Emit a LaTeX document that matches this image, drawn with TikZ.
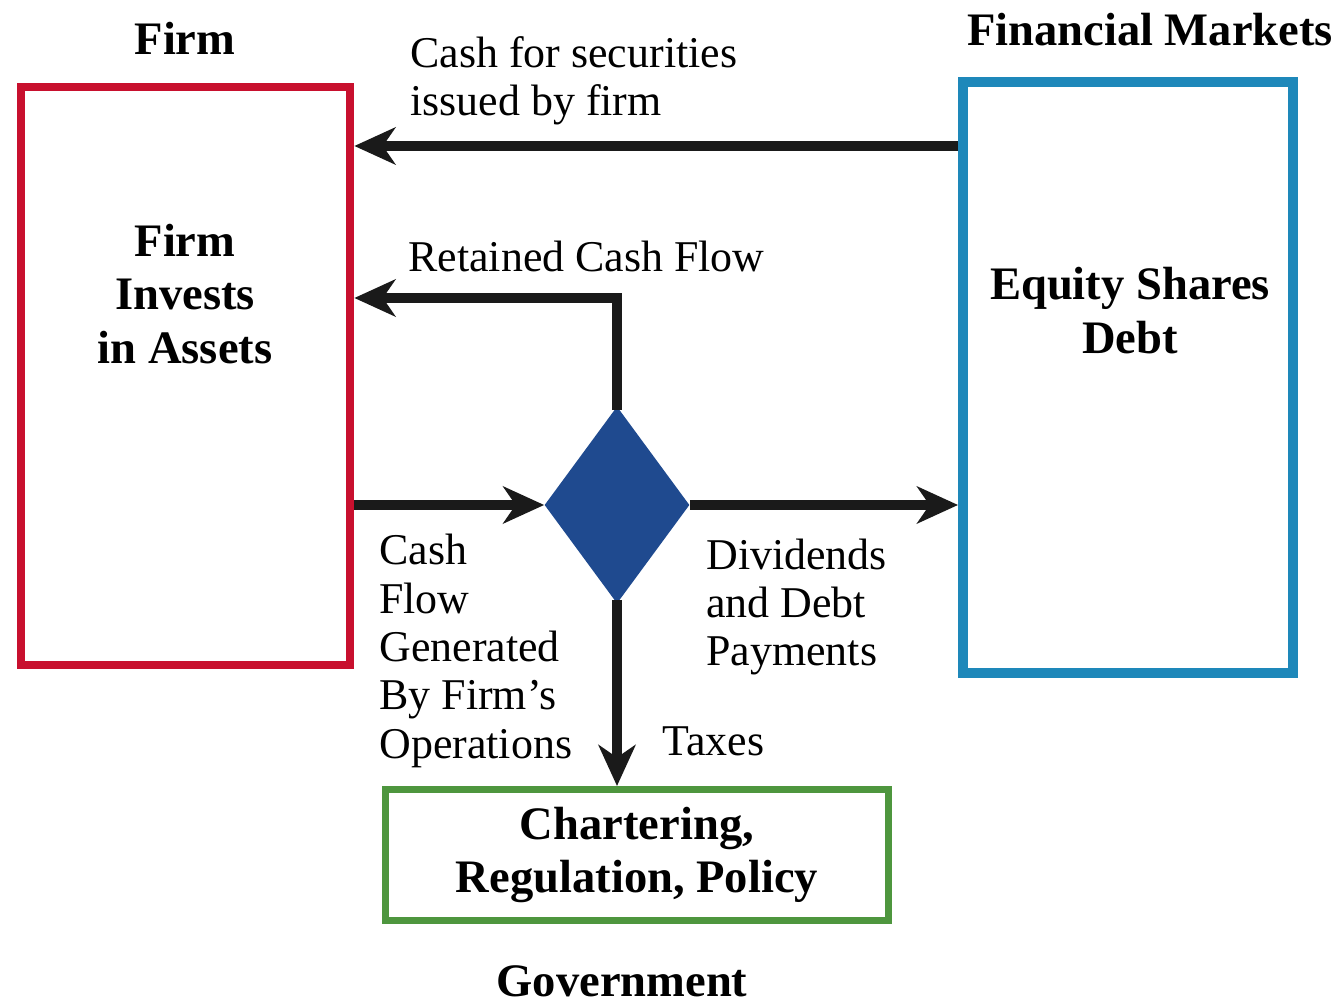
\documentclass[tikz,border=0pt]{standalone}
\usepackage{fontspec}
\setmainfont{Liberation Serif}
\definecolor{vermelhoFirma}{RGB}{200,16,46}
\definecolor{azulMercado}{RGB}{30,136,186}
\definecolor{verdeGoverno}{RGB}{78,150,62}
\definecolor{azulLosango}{RGB}{31,74,143}
\definecolor{pretoSeta}{RGB}{26,26,26}
\usetikzlibrary{shapes.geometric,arrows.meta,positioning}
\tikzset{
  caixa/.style={rectangle, draw=#1, line width=5pt, inner sep=0pt},
  losango/.style={diamond, fill=azulLosango, inner sep=0pt,
                  minimum width=2.9cm, minimum height=3.94cm},
  titulo/.style={inner sep=0pt, align=center,
                 font=\fontsize{26.5}{30.6}\selectfont\bfseries},
  rotulo/.style={inner sep=0pt, align=left, anchor=west,
                 font=\fontsize{25}{27.5}\selectfont},
  seta/.style={-{Stealth[length=0.82cm, width=0.74cm, inset=0.25cm]},
               line width=6pt, pretoSeta},
}

\begin{document}
\begin{tikzpicture}[x=0.02cm, y=0.02cm]
  \useasboundingbox (0,0) rectangle (1338,1004);

  % firma, mercados e governo
  \node[caixa=vermelhoFirma, minimum width=6.58cm, minimum height=11.56cm] (firma) at (185.5,628) {};
  \node[caixa=azulMercado, line width=5.7pt, minimum width=6.6cm, minimum height=11.82cm] (mercado) at (1128,626.5) {};
  \node[caixa=verdeGoverno, line width=4pt, minimum width=10.08cm, minimum height=2.62cm,
        titulo] (governo) at (637,149) {Chartering,\\Regulation, Policy};
  \node[losango] (divisao) at (617,499) {};

  \node[titulo] (tfirma) at (185,966) {Firm};
  \node[titulo] (tmercado) at (1150,974) {Financial Markets};
  \node[titulo] (tgoverno) at (622,23) {Government};
  \node[titulo] (txtfirma) at (185,710) {Firm\\Invests\\in Assets};
  \node[titulo] (txtmercado) at (1130,693.5) {Equity Shares\\Debt};

  % fluxos de caixa
  \draw[seta] (mercado.west |- 0,858) -- (firma.east |- 0,858);
  \draw[seta] ([yshift=-2pt]divisao.north) |- (firma.east |- 0,706);
  \draw[seta] (firma.east |- divisao.west) -- (divisao.west);
  \draw[seta] (divisao.east) -- (mercado.west |- divisao.east);
  \draw[seta] ([yshift=2pt]divisao.south) -- (divisao.south |- governo.north);

  \node[rotulo] (lcaptacao) at (410,923) {Cash for securities\\issued by firm};
  \node[rotulo] (lretido) at (408,748) {Retained Cash Flow};
  \node[rotulo] (lgerado) at (379,353) {Cash\\Flow\\Generated\\By Firm's\\Operations};
  \node[rotulo] (lpagamentos) at (706,397) {Dividends\\and Debt\\Payments};
  \node[rotulo] (limpostos) at (662,263) {Taxes};
\end{tikzpicture}
\end{document}
